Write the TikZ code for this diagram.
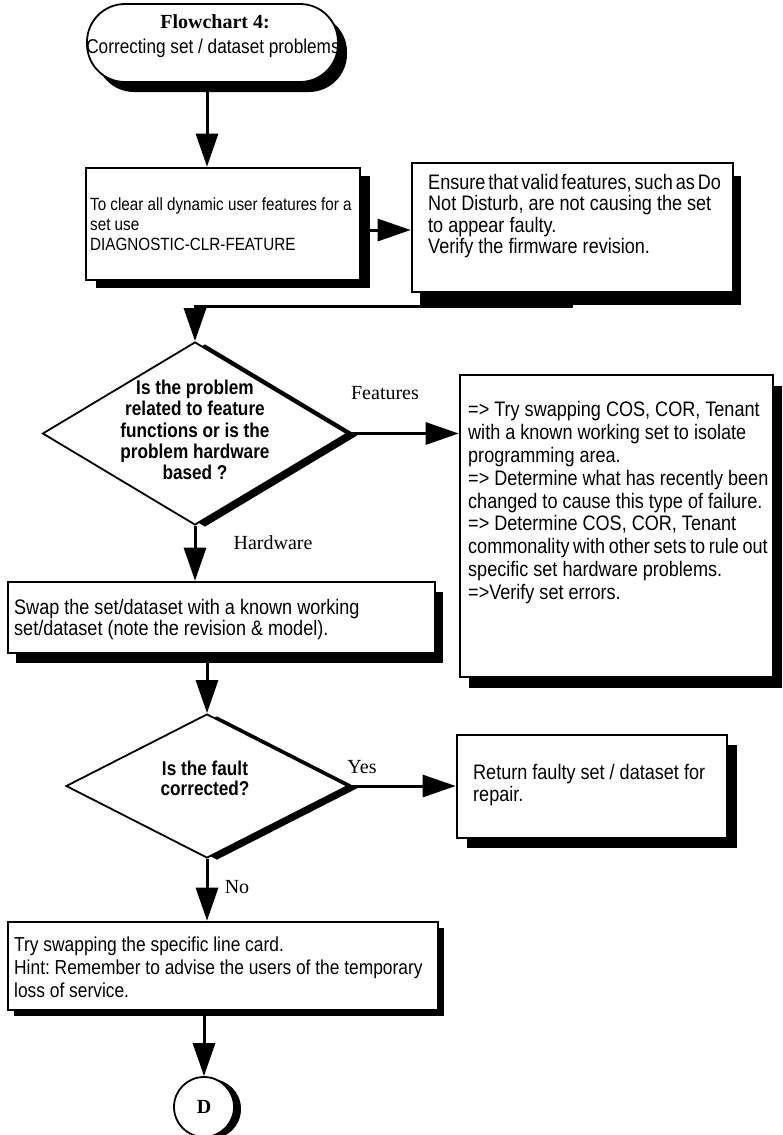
\documentclass[tikz,border=0pt]{standalone}
\usepackage{fontspec}
\usetikzlibrary{shapes.geometric, shadows, arrows.meta, calc}
\newfontfamily\nar[FakeStretch=0.86]{Liberation Sans}
\newfontfamily\ser{Liberation Serif}
\newcommand\tightsp{\spaceskip=0.14em plus 0pt minus 0pt\relax}
\frenchspacing
\begin{document}
\begin{tikzpicture}[x=1pt, y=-1pt,
  sh/.style 2 args={drop shadow={shadow xshift=#1pt, shadow yshift=-#2pt, fill=black, opacity=1}},
  box/.style={draw, line width=2.6pt, fill=white, inner sep=0pt},
  dec/.style={diamond, draw, line width=1.8pt, fill=white, inner sep=0pt, sh={10}{2}},
  txt/.style={anchor=north west, inner sep=0pt, align=left},
  lbl/.style={font=\ser\fontsize{20}{24}\selectfont, inner sep=0pt},
  arr/.style={line width=3pt, -{Triangle[length=33pt, width=22pt]}},
  ]
\path[use as bounding box] (0,0) rectangle (783,1135);

% terminator
\node[box, sh={9}{10}, rounded corners=38pt, line width=1.8pt, minimum width=251pt, minimum height=78pt] (term) at (212.5,43) {};
\node[font=\ser\bfseries\fontsize{20}{24}\selectfont, inner sep=0pt] (termA) at (215,22) {Flowchart 4:};
\node[font=\nar\fontsize{20}{22}\selectfont, inner sep=0pt] (termB) at (213,48) {Correcting set / dataset problems};

% box 1
\node[box, sh={10}{8}, minimum width=274pt, minimum height=112pt] (b1) at (223,224) {};
\node[txt, font=\nar\fontsize{17.7}{20}\selectfont] (b1t) at (90,197) {To clear all dynamic user features for a\\set use\\DIAGNOSTIC-CLR-FEATURE};

% box 2
\node[box, sh={8}{13}, minimum width=321pt, minimum height=129pt] (b2) at (572.5,227.5) {};
\node[txt, font=\nar\fontsize{21}{21.3}\selectfont] (b2t) at (428,174) {{\tightsp Ensure that valid features, such as Do}\\Not Disturb, are not causing the set\\to appear faulty.\\Verify the firmware revision.};

% decision 1
\node[dec, minimum width=305pt, minimum height=183pt] (d1) at (195,433.5) {};
\node[font=\nar\bfseries\fontsize{20}{21.25}\selectfont, align=center, inner sep=0pt] (d1t) at (195,430) {Is the problem\\related to feature\\functions or is the\\problem hardware\\based ?};

% box 3
\node[box, sh={9}{11}, minimum width=313pt, minimum height=302pt] (b3) at (616.5,526) {};
\node[txt, font=\nar\fontsize{21}{22.9}\selectfont] (b3t) at (468,401) {=> Try swapping COS, COR, Tenant\\with a known working set to isolate\\programming area.\\=> Determine what has recently been\\changed to cause this type of failure.\\=> Determine COS, COR, Tenant\\{\spaceskip=0.17em\relax commonality with other sets to rule out}\\specific set hardware problems.\\=>Verify set errors.};

% swap box
\node[box, sh={8}{10}, minimum width=427pt, minimum height=71pt] (sw) at (221.5,617.5) {};
\node[txt, font=\nar\fontsize{21}{21}\selectfont] (swt) at (14,599) {Swap the set/dataset with a known working\\set/dataset (note the revision \& model).};

% decision 2
\node[dec, minimum width=282pt, minimum height=144pt] (d2) at (207,786) {};
\node[font=\nar\bfseries\fontsize{20}{20}\selectfont, align=center, inner sep=0pt] (d2t) at (205,778) {Is the fault\\corrected?};

% return box
\node[box, sh={10}{10}, minimum width=270pt, minimum height=103pt] (ret) at (592,786.5) {};
\node[txt, font=\nar\fontsize{21}{22}\selectfont] (rett) at (473,764) {Return faulty set / dataset for\\repair.};

% box 4
\node[box, sh={6}{6}, minimum width=430pt, minimum height=88pt] (b4) at (223,966) {};
\node[txt, font=\nar\fontsize{20.2}{23}\selectfont] (b4t) at (14,937) {Try swapping the specific line card.\\Hint: Remember to advise the users of the temporary\\loss of service.};

% connector D
\node[circle, draw, line width=1.8pt, fill=white, minimum size=60pt, inner sep=0pt, sh={7}{2}, font=\ser\bfseries\fontsize{20}{24}\selectfont] (D) at (204,1107) {D};

% labels
\node[lbl] (lF) at (385,393) {Features};
\node[lbl] (lH) at (273,543) {Hardware};
\node[lbl] (lY) at (362,767) {Yes};
\node[lbl] (lN) at (237,887) {No};

% connectors
\draw[arr] ([xshift=-5.5pt]term.south) -- ([xshift=-16pt]b1.north);
\draw[arr] ([yshift=-6pt]b1.east) -- ([yshift=-6pt]b1.east -| b2.west);
\draw[arr] ([yshift=-13pt]b2.south) -| (d1.north);
\draw[arr] (d1.east) -- (d1.east -| b3.west);
\draw[arr] (d1.south) -- (d1.south |- sw.north);
\draw[arr] (d2.north |- sw.south) -- (d2.north);
\draw[arr] (d2.east) -- (d2.east -| ret.west);
\draw[arr] (d2.south) -- (d2.south |- b4.north);
\draw[arr] (D.north |- b4.south) -- (D.north);
\end{tikzpicture}
\end{document}
